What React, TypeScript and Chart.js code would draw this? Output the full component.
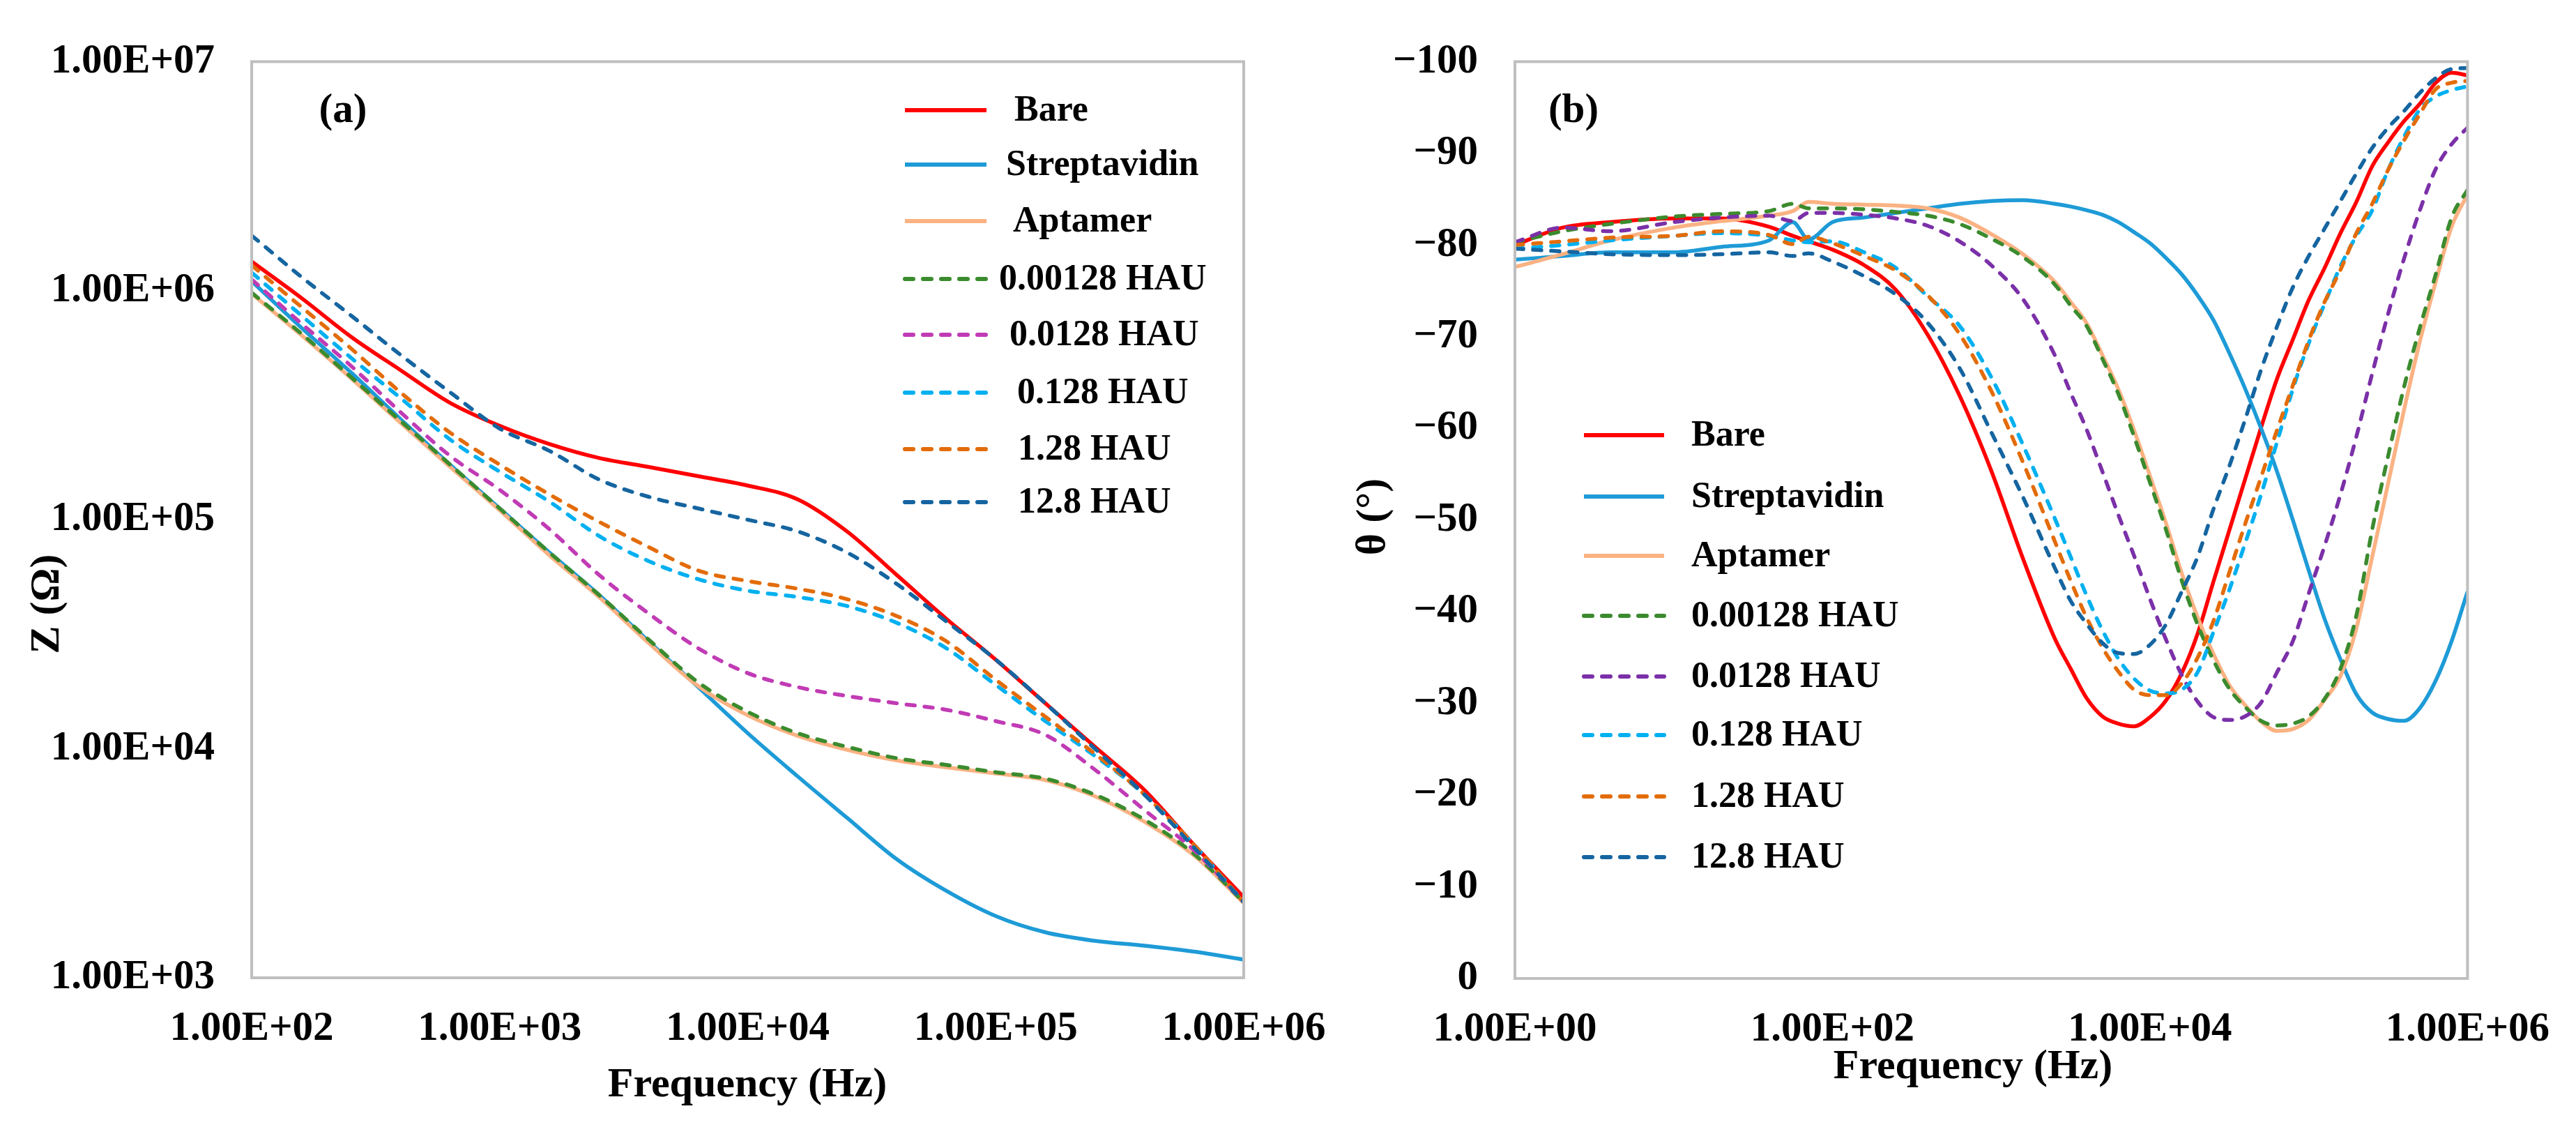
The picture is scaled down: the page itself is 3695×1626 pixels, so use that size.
import React, { useEffect, useRef } from 'react';
import { Chart, registerables } from 'chart.js';

Chart.register(...registerables);

// ---------- shared series info ----------
const seriesNames = ['Bare', 'Streptavidin', 'Aptamer', '0.00128 HAU', '0.0128 HAU', '0.128 HAU', '1.28 HAU', '12.8 HAU'];
const dashedSeries = [false, false, false, true, true, true, true, true];
const colorsA = ['#FF0000', '#1E9BD7', '#FBB283', '#3B8B2E', '#C13BB5', '#00B0F0', '#E36C0A', '#1565A0'];
const colorsB = ['#FF0000', '#1E9BD7', '#FBB283', '#3B8B2E', '#7B30A8', '#00B0F0', '#E36C0A', '#1565A0'];

// ---------- panel (a): impedance magnitude ----------
// log10 of frequency (Hz)
const logFreqA = [2.0, 2.2, 2.4, 2.6, 2.8, 3.0, 3.2, 3.4, 3.6, 3.8, 4.0, 4.2, 4.4, 4.6, 4.8, 5.0, 5.2, 5.4, 5.6, 5.8, 6.0];
const zBare = [1.34e6, 9.3e5, 6.3e5, 4.5e5, 3.24e5, 2.57e5, 2.14e5, 1.86e5, 1.7e5, 1.55e5, 1.41e5, 1.23e5, 8.9e4, 5.75e4, 3.7e4, 2.45e4, 1.58e4, 1.02e4, 6.6e3, 3.8e3, 2.25e3];
const zStrept = [1.1e6, 6.9e5, 4.4e5, 2.75e5, 1.74e5, 1.12e5, 7.2e4, 4.7e4, 2.95e4, 1.86e4, 1.17e4, 7.6e3, 5.0e3, 3.3e3, 2.4e3, 1.86e3, 1.58e3, 1.45e3, 1.38e3, 1.3e3, 1.2e3];
const zApt = [9.7e5, 6.4e5, 4.15e5, 2.65e5, 1.7e5, 1.1e5, 7.0e4, 4.6e4, 2.9e4, 1.88e4, 1.4e4, 1.14e4, 9.9e3, 8.9e3, 8.3e3, 7.8e3, 7.3e3, 6.2e3, 4.8e3, 3.42e3, 2.12e3];
const zHau1 = [9.8e5, 6.5e5, 4.2e5, 2.7e5, 1.74e5, 1.12e5, 7.2e4, 4.7e4, 3.0e4, 1.95e4, 1.45e4, 1.17e4, 1.02e4, 9.1e3, 8.5e3, 7.9e3, 7.4e3, 6.3e3, 4.9e3, 3.47e3, 2.14e3];
const zHau2 = [1.12e6, 7.2e5, 4.7e5, 2.95e5, 1.9e5, 1.35e5, 9.1e4, 5.75e4, 3.9e4, 2.75e4, 2.14e4, 1.86e4, 1.7e4, 1.58e4, 1.48e4, 1.32e4, 1.15e4, 8.1e3, 5.4e3, 3.6e3, 2.14e3];
const zHau3 = [1.2e6, 7.8e5, 5.1e5, 3.4e5, 2.24e5, 1.62e5, 1.2e5, 8.5e4, 6.6e4, 5.5e4, 4.9e4, 4.6e4, 4.2e4, 3.55e4, 2.75e4, 1.9e4, 1.32e4, 9.3e3, 6.3e3, 3.8e3, 2.14e3];
const zHau4 = [1.29e6, 8.5e5, 5.6e5, 3.6e5, 2.4e5, 1.74e5, 1.29e5, 9.8e4, 7.6e4, 6.0e4, 5.4e4, 5.0e4, 4.5e4, 3.8e4, 2.95e4, 2.0e4, 1.38e4, 9.5e3, 6.3e3, 3.8e3, 2.14e3];
const zHau5 = [1.74e6, 1.15e6, 7.8e5, 5.25e5, 3.6e5, 2.5e5, 2.0e5, 1.5e5, 1.26e5, 1.12e5, 1.0e5, 8.9e4, 7.2e4, 5.25e4, 3.6e4, 2.45e4, 1.58e4, 1.0e4, 6.3e3, 3.7e3, 2.14e3];

const zTicks = [1e3, 1e4, 1e5, 1e6, 1e7];
const zTickLabels = ['1.00E+03', '1.00E+04', '1.00E+05', '1.00E+06', '1.00E+07'];
const freqTicksA = [1e2, 1e3, 1e4, 1e5, 1e6];
const freqTickLabelsA = ['1.00E+02', '1.00E+03', '1.00E+04', '1.00E+05', '1.00E+06'];

// ---------- panel (b): phase angle ----------
const logFreqB = [0, 0.3, 0.6, 1.0, 1.3, 1.6, 1.75, 1.85, 2.0, 2.2, 2.4, 2.6, 2.8, 3.0, 3.2, 3.4, 3.5, 3.6, 3.7, 3.8, 3.9, 4.0, 4.1, 4.2, 4.3, 4.4, 4.5, 4.6, 4.7, 4.8, 4.9, 5.0, 5.1, 5.2, 5.3, 5.4, 5.5, 5.6, 5.7, 5.8, 5.9, 6.0];
const thBare = [-80.0, -81.9, -82.5, -82.9, -82.9, -82.0, -81.0, -80.4, -79.5, -77.8, -75.1, -70.2, -63.6, -55.4, -45.8, -37.1, -33.8, -30.6, -28.6, -27.8, -27.5, -28.5, -30.3, -33.3, -37.6, -43.3, -48.9, -54.5, -60.1, -65.4, -69.7, -74.0, -77.5, -81.3, -84.7, -88.6, -91.2, -93.5, -95.4, -97.7, -98.8, -98.5];
const thStrept = [-78.4, -78.8, -79.2, -79.2, -79.8, -80.5, -82.5, -80.6, -82.5, -83.0, -83.5, -84.0, -84.5, -84.8, -84.9, -84.5, -84.2, -83.8, -83.3, -82.5, -81.4, -80.2, -78.6, -76.8, -74.5, -71.8, -68.2, -64.3, -60.0, -55.3, -50.0, -44.5, -39.2, -34.8, -31.0, -29.0, -28.3, -28.1, -29.5, -32.5, -36.8, -42.2];
const thApt = [-77.6, -79.0, -80.5, -81.9, -82.6, -83.2, -83.7, -84.7, -84.5, -84.4, -84.3, -84.0, -83.0, -81.2, -79.0, -76.0, -73.8, -71.5, -68.0, -64.3, -59.8, -54.8, -49.7, -44.2, -39.4, -35.4, -32.0, -29.8, -28.0, -27.0, -27.2, -28.2, -30.4, -33.0, -38.2, -46.0, -54.0, -62.0, -69.5, -76.0, -82.0, -85.5];
const thHau1 = [-80.3, -81.5, -82.3, -83.1, -83.4, -83.7, -84.5, -84.0, -84.0, -83.9, -83.6, -83.2, -82.3, -80.7, -78.7, -75.7, -73.4, -71.2, -67.6, -63.8, -59.1, -54.1, -49.0, -43.4, -38.6, -34.7, -31.6, -29.6, -28.1, -27.6, -27.8, -28.6, -30.5, -33.8, -39.6, -49.0, -57.0, -64.5, -71.0, -76.8, -83.0, -86.0];
const thHau2 = [-80.3, -81.9, -81.5, -82.5, -83.0, -83.2, -82.6, -83.5, -83.5, -83.3, -82.9, -82.1, -80.4, -77.8, -74.1, -68.0, -63.9, -59.9, -55.3, -50.6, -46.1, -41.4, -37.0, -33.1, -30.2, -28.5, -28.2, -28.6, -30.1, -33.4, -36.8, -42.0, -47.2, -52.8, -59.1, -66.0, -72.5, -78.5, -83.8, -88.3, -91.0, -92.8];
const thHau3 = [-79.6, -80.0, -80.5, -81.0, -81.3, -81.0, -80.5, -80.3, -80.4, -79.2, -77.5, -74.4, -71.2, -65.6, -58.2, -50.2, -46.0, -41.8, -38.0, -34.9, -32.7, -31.4, -31.1, -31.5, -33.4, -37.8, -42.4, -47.5, -52.8, -58.5, -64.3, -69.3, -73.6, -77.7, -81.0, -83.8, -88.2, -91.8, -94.8, -96.2, -96.9, -97.3];
const thHau4 = [-80.0, -80.4, -80.8, -81.0, -81.5, -81.1, -80.1, -80.9, -80.2, -78.8, -77.2, -74.5, -70.3, -64.1, -56.3, -47.7, -43.4, -39.4, -36.1, -33.5, -31.5, -30.9, -30.9, -32.2, -35.0, -39.0, -44.3, -49.6, -54.7, -59.8, -64.7, -69.6, -73.8, -77.3, -81.3, -84.5, -88.2, -91.4, -94.3, -97.0, -97.7, -97.9];
const thHau5 = [-79.6, -79.3, -79.0, -78.9, -79.0, -79.2, -78.8, -79.1, -78.2, -76.6, -74.6, -71.5, -66.6, -59.6, -52.5, -44.8, -41.2, -38.7, -36.6, -35.5, -35.4, -36.4, -38.6, -42.2, -46.0, -51.2, -55.9, -61.0, -66.4, -71.1, -75.4, -78.8, -81.8, -84.8, -87.8, -90.6, -92.8, -94.6, -96.6, -98.2, -99.2, -99.3];

const thetaTicks = [-100, -90, -80, -70, -60, -50, -40, -30, -20, -10, 0];
const thetaTickLabels = ['\u2212100', '\u221290', '\u221280', '\u221270', '\u221260', '\u221250', '\u221240', '\u221230', '\u221220', '\u221210', '0'];
const freqTicksB = [1, 1e2, 1e4, 1e6];
const freqTickLabelsB = ['1.00E+00', '1.00E+02', '1.00E+04', '1.00E+06'];

// ---------- styling ----------
const FONT = "'Liberation Serif', 'Times New Roman', serif";
const tickFont = { family: FONT, size: 59, weight: 'bold' as const };
const CANVAS_H = 1626;

interface Decor {
  panel: string;
  panelPos: [number, number];
  xTitle: string;
  xTitlePos: [number, number];
  yTitle: string;
  yTitlePos: [number, number];
  legendRows: number[];
  legendLine: [number, number];
  legendTextX: number[];
}

function decorPlugin(d: Decor) {
  return {
    id: 'decor',
    afterDatasetsDraw(chart: any) {
      const { ctx, chartArea: a } = chart;
      ctx.save();
      // plot frame
      ctx.strokeStyle = '#BFBFBF';
      ctx.lineWidth = 4;
      ctx.strokeRect(a.left, a.top, a.right - a.left, a.bottom - a.top);

      ctx.fillStyle = '#000';
      ctx.textBaseline = 'middle';
      ctx.textAlign = 'center';
      ctx.font = `bold 59px ${FONT}`;
      ctx.fillText(d.panel, d.panelPos[0], d.panelPos[1]);
      ctx.font = `bold 60px ${FONT}`;
      ctx.fillText(d.xTitle, d.xTitlePos[0], d.xTitlePos[1]);
      ctx.save();
      ctx.translate(d.yTitlePos[0], d.yTitlePos[1]);
      ctx.rotate(-Math.PI / 2);
      ctx.fillText(d.yTitle, 0, 0);
      ctx.restore();

      // legend
      ctx.font = `bold 52px ${FONT}`;
      ctx.textAlign = 'left';
      chart.data.datasets.forEach((ds: any, i: number) => {
        const y = d.legendRows[i];
        ctx.beginPath();
        ctx.strokeStyle = ds.borderColor;
        ctx.lineWidth = 6;
        ctx.lineCap = dashedSeries[i] ? 'round' : 'butt';
        ctx.setLineDash(dashedSeries[i] ? [12, 14] : []);
        ctx.moveTo(d.legendLine[0], y);
        ctx.lineTo(d.legendLine[1], y);
        ctx.stroke();
        ctx.setLineDash([]);
        ctx.fillText(ds.label, d.legendTextX[i], y + 2);
      });
      ctx.restore();
    },
  };
}

function makeDatasets(logF: number[], series: number[][], colors: string[]) {
  return series.map((ys, i) => ({
    label: seriesNames[i],
    data: ys.map((y, j) => ({ x: Math.pow(10, logF[j]), y })),
    borderColor: colors[i],
    backgroundColor: colors[i],
    borderWidth: 5.5,
    borderDash: dashedSeries[i] ? [12, 14] : [],
    borderCapStyle: dashedSeries[i] ? ('round' as const) : ('butt' as const),
    pointRadius: 0,
    cubicInterpolationMode: 'monotone' as const,
    fill: false,
    order: series.length - i,
  }));
}

function configA(): any {
  return {
    type: 'line',
    data: {
      datasets: makeDatasets(logFreqA, [zBare, zStrept, zApt, zHau1, zHau2, zHau3, zHau4, zHau5], colorsA),
    },
    options: {
      animation: false,
      responsive: false,
      devicePixelRatio: 1,
      layout: { padding: { left: 0, top: 86, right: 176, bottom: 0 } },
      plugins: { legend: { display: false }, tooltip: { enabled: false } },
      scales: {
        x: {
          type: 'logarithmic',
          min: 1e2,
          max: 1e6,
          afterBuildTicks: (s: any) => { s.ticks = freqTicksA.map((v) => ({ value: v })); },
          afterFit: (s: any) => { s.height = 224; },
          ticks: {
            autoSkip: false, maxRotation: 0, padding: 38, color: '#000', font: tickFont,
            callback: (_v: any, i: number) => freqTickLabelsA[i],
          },
          grid: { display: false, drawTicks: false },
          border: { display: false },
        },
        y: {
          type: 'logarithmic',
          min: 1e3,
          max: 1e7,
          afterBuildTicks: (s: any) => { s.ticks = zTicks.map((v) => ({ value: v })); },
          afterFit: (s: any) => { s.width = 361; },
          ticks: {
            autoSkip: false, padding: 53, color: '#000', font: tickFont,
            callback: (_v: any, i: number) => zTickLabels[i],
          },
          grid: { display: false, drawTicks: false },
          border: { display: false },
        },
      },
    },
    plugins: [decorPlugin({
      panel: '(a)', panelPos: [492, 160],
      xTitle: 'Frequency (Hz)', xTitlePos: [1072, 1556],
      yTitle: 'Z (\u03A9)', yTitlePos: [68, 866],
      legendRows: [158, 236, 317, 400, 480, 563, 644, 720],
      legendLine: [1298, 1415],
      legendTextX: [1455, 1443, 1453, 1433, 1448, 1459, 1460, 1460],
    })],
  };
}

const OFFSET_B = 1880;

function configB(): any {
  return {
    type: 'line',
    data: {
      datasets: makeDatasets(logFreqB, [thBare, thStrept, thApt, thHau1, thHau2, thHau3, thHau4, thHau5], colorsB),
    },
    options: {
      animation: false,
      responsive: false,
      devicePixelRatio: 1,
      layout: { padding: { left: 0, top: 82, right: 139, bottom: 0 } },
      plugins: { legend: { display: false }, tooltip: { enabled: false } },
      scales: {
        x: {
          type: 'logarithmic',
          min: 1,
          max: 1e6,
          afterBuildTicks: (s: any) => { s.ticks = freqTicksB.map((v) => ({ value: v })); },
          afterFit: (s: any) => { s.height = 223; },
          ticks: {
            autoSkip: false, maxRotation: 0, padding: 38, color: '#000', font: tickFont,
            callback: (_v: any, i: number) => freqTickLabelsB[i],
          },
          grid: { display: false, drawTicks: false },
          border: { display: false },
        },
        y: {
          type: 'linear',
          min: -100,
          max: 0,
          reverse: true,
          afterBuildTicks: (s: any) => { s.ticks = thetaTicks.map((v) => ({ value: v })); },
          afterFit: (s: any) => { s.width = 2173 - OFFSET_B; },
          ticks: {
            autoSkip: false, padding: 53, color: '#000', font: tickFont,
            callback: (_v: any, i: number) => thetaTickLabels[i],
          },
          grid: { display: false, drawTicks: false },
          border: { display: false },
        },
      },
    },
    plugins: [decorPlugin({
      panel: '(b)', panelPos: [2257 - OFFSET_B, 160],
      xTitle: 'Frequency (Hz)', xTitlePos: [2830 - OFFSET_B, 1530],
      yTitle: '\u03B8 (\u00B0)', yTitlePos: [1970 - OFFSET_B, 741],
      legendRows: [624, 712, 797, 883, 970, 1054, 1142, 1229],
      legendLine: [2272 - OFFSET_B, 2387 - OFFSET_B],
      legendTextX: [2426, 2426, 2426, 2426, 2426, 2426, 2426, 2426].map((x) => x - OFFSET_B),
    })],
  };
}

const PanelCanvas: React.FC<{ left: number; width: number; makeConfig: () => any }> = ({ left, width, makeConfig }) => {
  const canvasRef = useRef<HTMLCanvasElement | null>(null);

  useEffect(() => {
    if (!canvasRef.current) return;
    const chart = new Chart(canvasRef.current, makeConfig());
    return () => {
      chart.destroy();
    };
  }, [makeConfig]);

  return (
    <canvas
      ref={canvasRef}
      width={width}
      height={CANVAS_H}
      style={{ position: 'absolute', left, top: 0, width, height: CANVAS_H }}
    />
  );
};

const App: React.FC = () => {
  return (
    <div style={{ position: 'absolute', left: 0, top: 0, width: 3695, height: CANVAS_H, background: '#fff' }}>
      <PanelCanvas left={0} width={1960} makeConfig={configA} />
      <PanelCanvas left={OFFSET_B} width={3695 - OFFSET_B} makeConfig={configB} />
    </div>
  );
};

export default App;
